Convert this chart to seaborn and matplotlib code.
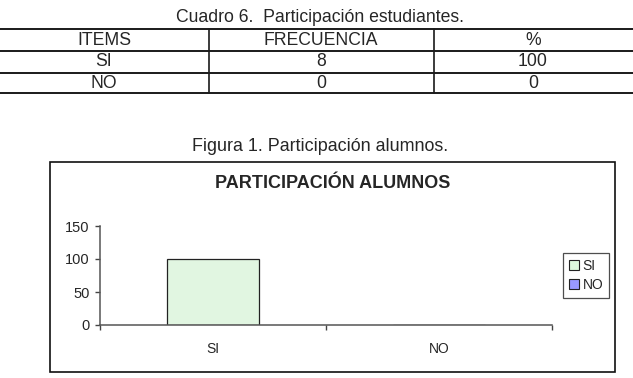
import matplotlib
matplotlib.use("Agg")
import matplotlib.pyplot as plt
from matplotlib.lines import Line2D
from matplotlib.patches import Rectangle, Patch
import seaborn as sns
import pandas as pd

# ---- data ----
table_title = "Cuadro 6.  Participación estudiantes."
table_header = ["ITEMS", "FRECUENCIA", "%"]
items = ["SI", "NO"]
frecuencia = [8, 0]
porcentaje = [100, 0]

fig_caption = "Figura 1. Participación alumnos."
chart_title = "PARTICIPACIÓN ALUMNOS"
categories = ["SI", "NO"]
values = [100, 0]
bar_colors = ["#DDFADD", "#9999FF"]
y_ticks = [0, 50, 100, 150]

sns.set_style("white")
plt.rcParams['font.family'] = ['Liberation Sans', 'DejaVu Sans']

W, H = 633, 378
fig = plt.figure(figsize=(W / 100, H / 100), dpi=100)

def fx(x):
    return x / W

def fy(y):
    return 1 - y / H

# ---- table ----
fig.text(fx(320), fy(18), table_title, ha="center", va="center", fontsize=12.7)
for yl in [29.3, 50.7, 72.5, 92.7]:
    fig.add_artist(Line2D([0, 1], [fy(yl), fy(yl)], color="#1a1a1a", lw=1.4,
                          transform=fig.transFigure))
for xl in [209.3, 433.5]:
    fig.add_artist(Line2D([fx(xl), fx(xl)], [fy(29.3), fy(92.7)], color="#1a1a1a", lw=1.2,
                          transform=fig.transFigure))
col_centers = [104, 321, 533]
row_centers = [40.5, 62, 83]
for c, h in zip(col_centers, table_header):
    fig.text(fx(c), fy(row_centers[0]), h, ha="center", va="center", fontsize=12.7)
for r, (it, fr, pc) in enumerate(zip(items, frecuencia, porcentaje)):
    for c, v in zip(col_centers, [it, fr, pc]):
        fig.text(fx(c), fy(row_centers[r + 1]), str(v), ha="center", va="center", fontsize=12.7)

# ---- figure caption ----
fig.text(fx(320.5), fy(147), fig_caption, ha="center", va="center", fontsize=12.9)

# ---- chart frame ----
fig.add_artist(Rectangle((fx(49.5), fy(372)), fx(615) - fx(49.5), fy(161.5) - fy(372),
                         fill=False, edgecolor="#111111", lw=1.2, transform=fig.transFigure))
fig.text(fx(332.5), fy(183), chart_title, ha="center", va="center", fontsize=13,
         fontweight="bold")

# ---- bar chart ----
ax = fig.add_axes([fx(100), fy(325), fx(552) - fx(100), fy(226) - fy(325)])
df = pd.DataFrame({"cat": categories, "val": values})
sns.barplot(data=df, x="cat", y="val", hue="cat", palette=bar_colors, width=0.405,
            dodge=False, edgecolor="#222222", linewidth=0.9, legend=False, ax=ax)
ax.set_ylim(0, 150)
ax.set_xlim(-0.5, len(categories) - 0.5)
ax.set_yticks(y_ticks)
ax.set_yticklabels([str(t) for t in y_ticks], fontsize=10.5)
ax.set_xticks([i - 0.5 for i in range(len(categories) + 1)])
ax.set_xticklabels([])
ax.set_xticks(list(range(len(categories))), minor=True)
ax.set_xticklabels(categories, minor=True, fontsize=10)
ax.tick_params(axis="x", which="major", bottom=True, direction="out", length=3.6,
               color="#444444", width=1)
ax.tick_params(axis="x", which="minor", bottom=True, length=0, pad=12.5)
ax.tick_params(axis="y", left=True, direction="out", length=3.6, color="#444444",
               width=1, pad=4)
ax.set_xlabel("")
ax.set_ylabel("")
for s in ["top", "right"]:
    ax.spines[s].set_visible(False)
for s in ["left", "bottom"]:
    ax.spines[s].set_color("#555555")
    ax.spines[s].set_linewidth(1.1)
ax.patch.set_alpha(0)

handles = [Patch(facecolor=c, edgecolor="#222222", lw=0.8) for c in bar_colors]
leg = fig.legend(handles, categories, loc="upper left",
                 bbox_to_anchor=(fx(563.3), fy(253.3)), bbox_transform=fig.transFigure,
                 frameon=True, fancybox=False, edgecolor="#222222", fontsize=10,
                 handlelength=0.7, handleheight=0.7, handletextpad=0.3,
                 borderpad=0.4, labelspacing=0.38, borderaxespad=0)
leg.get_frame().set_linewidth(0.9)

fig.savefig("out.png", dpi=100)
